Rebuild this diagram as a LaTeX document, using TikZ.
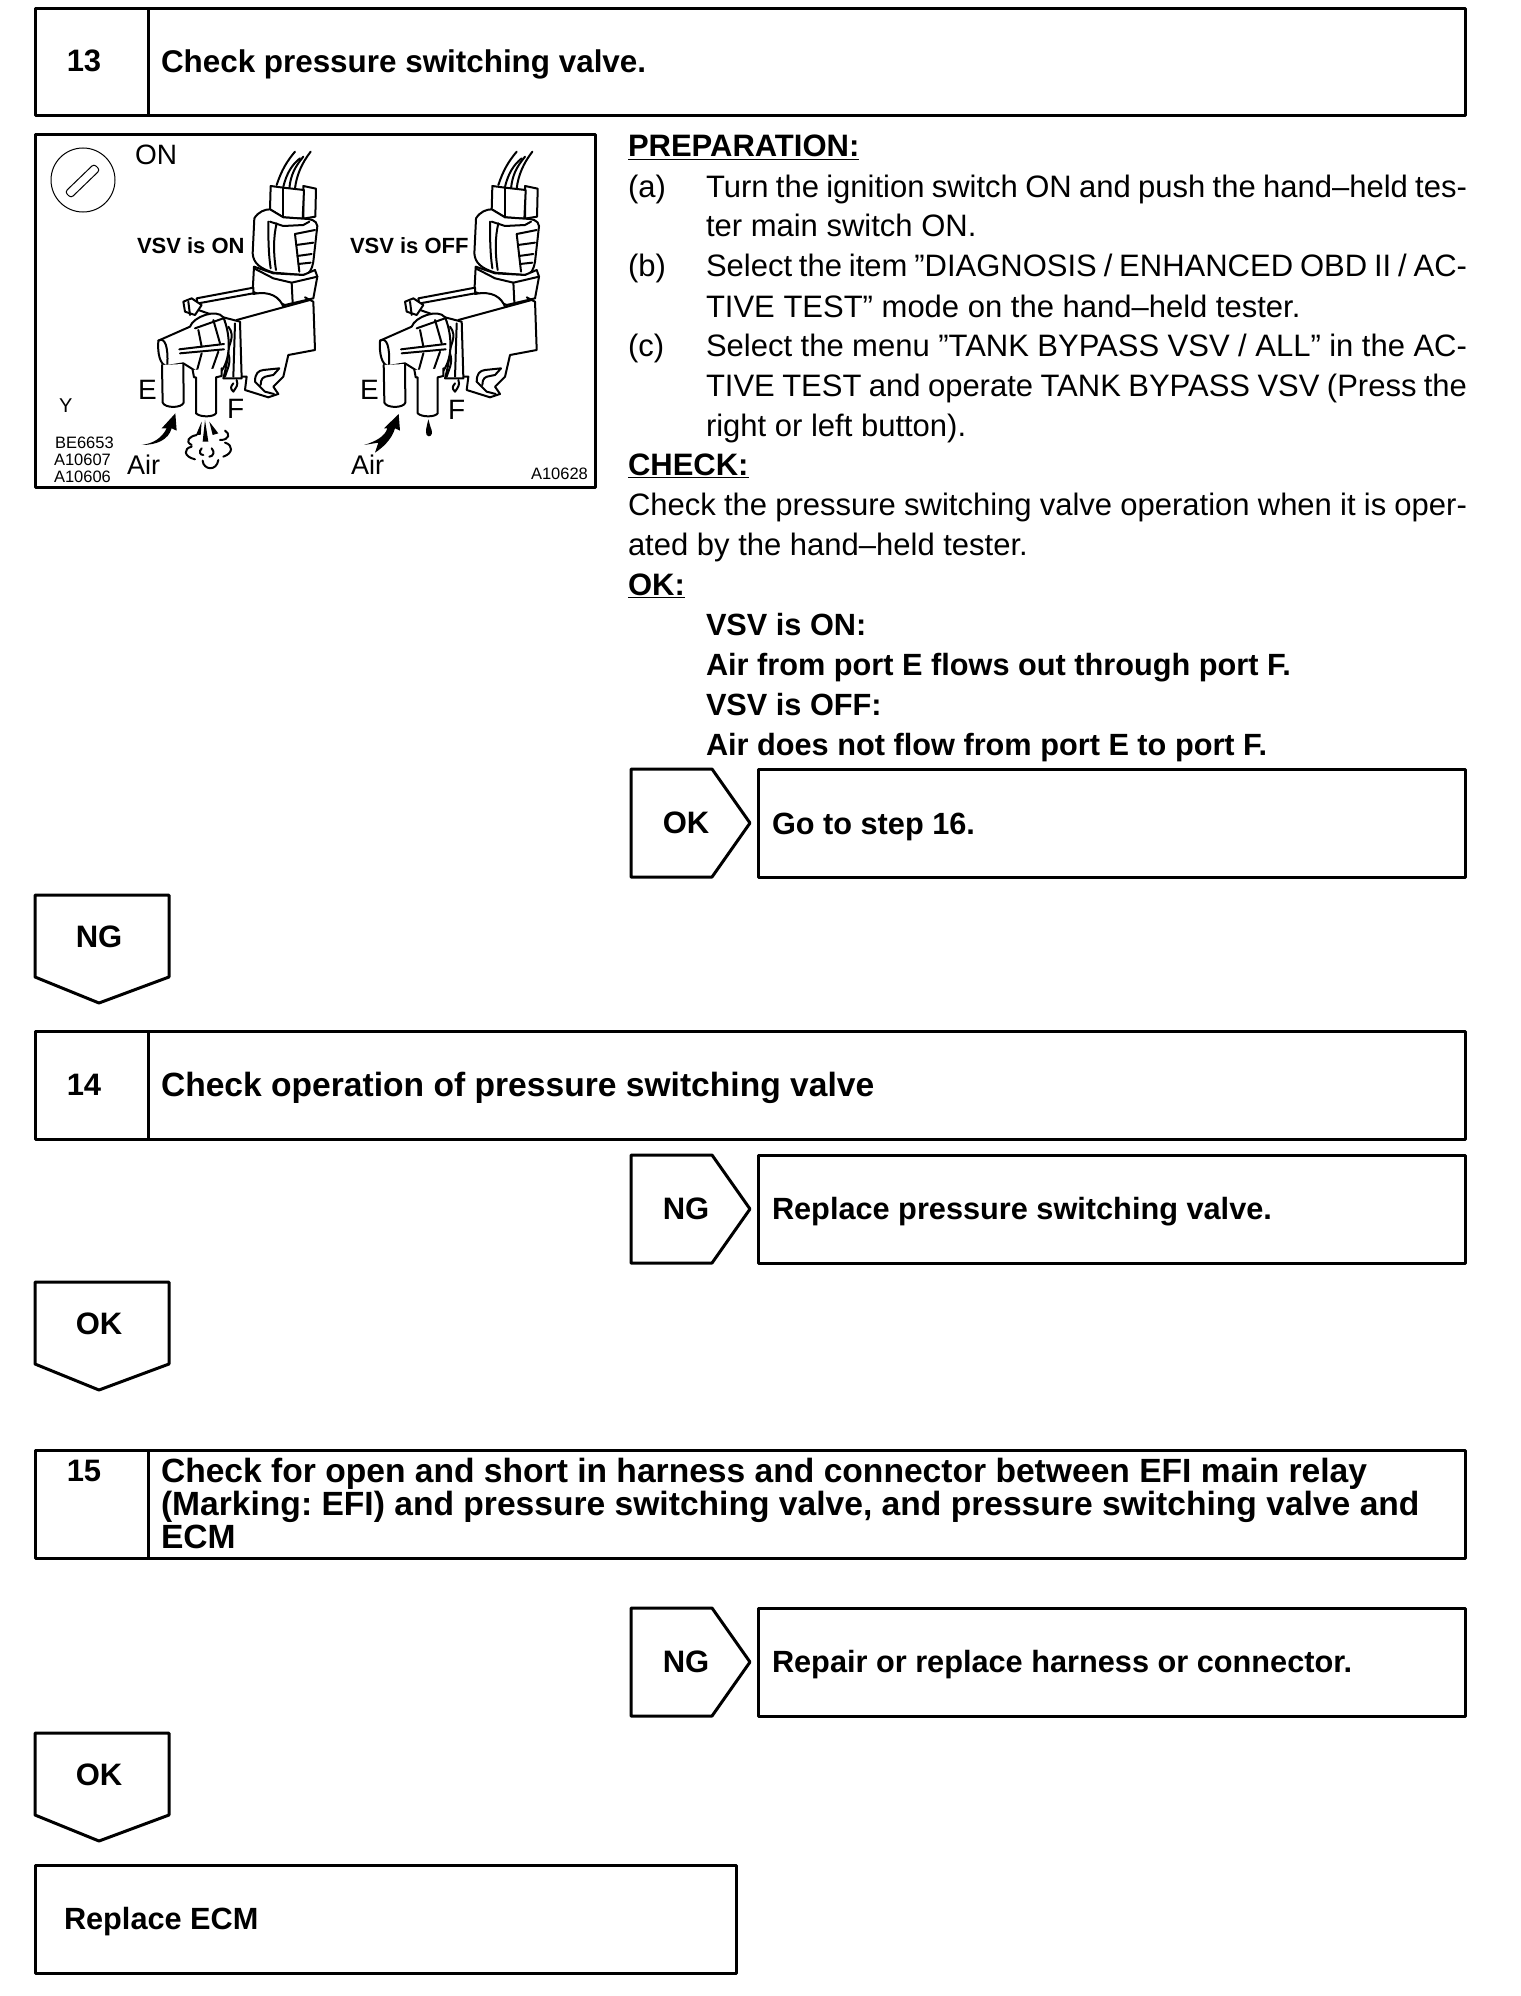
\documentclass[tikz,border=0pt]{standalone}
\usepackage{fontspec}
\setmainfont{Liberation Sans}
\frenchspacing
\newcommand{\vsvvalve}{%
 % wires
 \draw[vl] (770,195) .. controls (785,150) and (800,125) .. (825,95);
 \draw[vl] (790,200) .. controls (800,160) and (815,135) .. (840,115);
 \draw[vl] (808,205) .. controls (812,165) and (825,140) .. (850,110);
 \draw[vl] (825,205) .. controls (830,165) and (845,130) .. (872,95);
 % connector head
 \draw[vl,fill=white] (850,198) -- (888,206) -- (886,290) -- (850,296) -- cycle;
 \draw[vl,fill=white] (752,198) -- (750,268) -- (790,292) -- (848,296) -- (852,210) -- (790,203) -- cycle;
 \draw[vl] (790,205) -- (790,292);
 % connector body
 \draw[vl,fill=white] (703,295) .. controls (715,275) and (735,268) .. (750,268) -- (790,292) -- (850,296) .. controls (870,296) and (890,300) .. (892,318) -- (880,425) .. controls (875,450) and (870,462) .. (850,465) -- (760,458) .. controls (720,445) and (700,430) .. (698,400) -- cycle;
 \draw[vl] (745,305) .. controls (745,350) and (745,400) .. (752,445);
 \draw[vl] (770,310) .. controls (760,350) and (760,400) .. (768,450);
 \draw[vl] (750,305) -- (790,318) -- (850,315) -- (868,305);
 \draw[vl] (825,342) -- (885,330);
 \draw[vl] (825,342) -- (838,455);
 \draw[vl] (829,375) -- (880,368);
 \draw[vl] (832,408) -- (875,402);
 \draw[vl] (835,432) -- (872,428);
 % collar
 \draw[vl,fill=white] (702,440) -- (698,515) -- (795,555) -- (880,535) -- (892,470) -- (885,450) -- (850,465) -- (760,460) -- cycle;
 \draw[vl] (702,445) -- (760,475) -- (815,488) -- (892,470);
 \draw[vl] (815,488) -- (818,548);
 % solenoid
 \draw[vl,fill=white] (530,535) -- (700,503) -- (700,522) .. controls (750,512) and (780,530) .. (792,565) -- (650,610) -- (535,570) -- cycle;
 \draw[vl] (535,550) -- (700,520);
 % bracket clip
 \draw[vl,fill=white] (490,545) -- (515,535) -- (545,555) -- (525,585) -- (495,575) -- cycle;
 \draw[vl] (505,545) -- (510,585);
 % cover
 \draw[vl,fill=white] (650,600) -- (870,540) -- (880,545) -- (885,690) -- (805,705) -- (790,770) -- (760,800) -- (775,822) -- (745,832) -- (675,810) -- (680,770) -- (655,770) -- cycle;
 \draw[vl] (870,540) -- (855,532);
 \draw[vl] (705,785) .. controls (705,760) and (715,752) .. (730,750) -- (778,745) -- (760,765) -- (745,768) .. controls (730,770) and (722,775) .. (722,795);
 \draw[vl] (705,785) -- (735,815) -- (762,822);
 % flange
 \draw[vl,fill=white] (610,592) -- (660,605) -- (665,775) -- (610,775) .. controls (630,700) and (630,650) .. (610,592);
 \draw[vl] (645,610) -- (640,770);
 \draw[vl] (625,620) .. controls (650,650) and (620,680) .. (625,700) .. controls (635,730) and (620,750) .. (615,770);
 \draw[vl] (640,790) .. controls (632,800) and (630,805) .. (640,815) .. controls (650,800) and (655,795) .. (650,780);
 % cap and cone
 \draw[vl,fill=white] (510,620) .. controls (520,590) and (590,565) .. (610,592) .. controls (630,640) and (635,710) .. (605,752) -- (530,755) -- (490,730) -- (440,738) .. controls (420,735) and (412,700) .. (415,662) -- cycle;
 \draw[vl] (415,662) .. controls (435,650) and (445,680) .. (442,735);
 \draw[vl] (525,625) -- (610,595);
 \draw[vl] (535,630) -- (545,680);
 \draw[vl] (580,600) -- (600,670);
 \draw[vl] (478,688) -- (612,672);
 \draw[vl] (480,700) -- (612,688);
 \draw[vl] (545,700) -- (530,755);
 \draw[vl] (595,695) -- (575,752);
 % tubes
 \draw[vl,fill=white] (426,735) -- (428,848) .. controls (435,865) and (485,865) .. (491,848) -- (490,732);
 \draw[vl,fill=white] (518,750) -- (522,772) -- (528,772) -- (528,880) .. controls (540,892) and (580,892) .. (588,880) -- (588,772) -- (605,768) -- (605,745);
}
\tikzset{
 box/.style={line width=3pt,line join=round},
 vl/.style={line width=2pt,line join=round,line cap=round},
 txt/.style={anchor=base west,inner sep=0pt,outer sep=0pt,font=\fontsize{31}{31}\selectfont},
 btxt/.style={anchor=base west,inner sep=0pt,outer sep=0pt,font=\fontsize{30.7}{31}\selectfont\bfseries},
 htxt/.style={anchor=base west,inner sep=0pt,outer sep=0pt,font=\fontsize{33.6}{33.6}\selectfont\bfseries},
 ctxt/.style={anchor=center,inner sep=0pt,font=\fontsize{31}{31}\selectfont\bfseries},
 fig/.style={anchor=base west,inner sep=0pt,outer sep=0pt,font=\fontsize{28}{28}\selectfont},
 figb/.style={anchor=base west,inner sep=0pt,outer sep=0pt,font=\fontsize{22}{22}\selectfont\bfseries},
 code/.style={anchor=base west,inner sep=0pt,outer sep=0pt,font=\fontsize{16.5}{16.5}\selectfont},
}
\newcommand{\rpent}[3]{\draw[box] (631,#1) -- (712,#1) -- (750,#1+54) -- (712,#1+108) -- (631,#1+108) -- cycle;
 \node[ctxt] (#3) at (686,#1+54) {#2};}
\newcommand{\dpent}[3]{\draw[box] (35,#1) -- (169,#1) -- (169,#1+82) -- (99,#1+108) -- (35,#1+82) -- cycle;
 \node[ctxt] (#3) at (99,#1+42) {#2};}
\begin{document}
\begin{tikzpicture}[x=1pt,y=-1pt]
\useasboundingbox (0,0) rectangle (1520,1996);
\fill[white] (0,0) rectangle (1520,1996);

% step 13
\draw[box] (35,9) rectangle (1465,116);
\draw[box] (148,9) -- (148,116);
\node[ctxt] (n13) at (84,61) {13};
\node[btxt,font=\fontsize{31.4}{31.4}\selectfont\bfseries] (t13) at (161,73) {Check pressure switching valve.};

% figure
\draw[box] (35,134.5) rectangle (595,487);
\draw[line width=1pt] (83,180) circle (32);
\draw[line width=1pt,rounded corners=3pt] (65,192) -- (94,164) -- (100,170) -- (71,198) -- cycle;
\begin{scope}[shift={(20,120)},x=0.33333pt,y=-0.33333pt]
 \vsvvalve
 % air arrow
 \fill (365,975) .. controls (400,970) and (425,955) .. (440,925) -- (425,925) -- (466,880) -- (470,932) -- (455,925) .. controls (445,960) and (410,975) .. (365,975) -- cycle;
 % burst
 \fill (555,900) -- (548,965) -- (565,965) -- cycle;
 \fill (545,905) -- (528,945) -- (542,945) -- cycle;
 \fill (568,905) -- (578,945) -- (595,940) -- cycle;
 \draw[vl] (530,945) .. controls (505,950) and (495,965) .. (515,975);
 \draw[vl] (515,980) .. controls (490,985) and (490,1010) .. (525,1018);
 \draw[vl] (548,1022) .. controls (550,1050) and (590,1055) .. (595,1020);
 \draw[vl] (610,1010) .. controls (640,1000) and (640,975) .. (615,968);
 \draw[vl] (600,960) .. controls (630,960) and (630,940) .. (615,932);
 \draw[vl] (545,985) .. controls (535,995) and (540,1005) .. (550,1005);
 \draw[vl] (575,985) .. controls (585,995) and (580,1010) .. (568,1010);
\end{scope}
\begin{scope}[shift={(241.7,120)},x=0.33333pt,y=-0.33333pt]
 \vsvvalve
\end{scope}
\begin{scope}[shift={(310,120)},x=0.33333pt,y=-0.33333pt]
 \fill (162,975) .. controls (195,965) and (225,950) .. (232,925) -- (222,925) -- (266,882) -- (270,932) -- (255,925) .. controls (245,960) and (215,985) .. (195,998) -- (205,968) -- cycle;
 \fill (355,898) .. controls (350,920) and (345,935) .. (350,945) .. controls (358,955) and (370,945) .. (365,930) .. controls (360,920) and (358,905) .. (355,898) -- cycle;
\end{scope}
\node[fig] (on) at (135,165) {ON};
\node[figb] (von) at (137,253) {VSV is ON};
\node[figb] (voff) at (350,253) {VSV is OFF};
\node[fig,font=\fontsize{20}{20}\selectfont] (y) at (59,412) {Y};
\node[code] (c1) at (55,448) {BE6653};
\node[code] (c2) at (54,465) {A10607};
\node[code] (c3) at (54,482) {A10606};
\node[code] (c4) at (531,479) {A10628};
\node[fig,font=\fontsize{27}{27}\selectfont] (air1) at (127,474) {Air};
\node[fig,font=\fontsize{27}{27}\selectfont] (air2) at (351,474) {Air};
\node[fig] (e1) at (138,399) {E};
\node[fig] (f1) at (227,418) {F};
\node[fig] (e2) at (360,399) {E};
\node[fig] (f2) at (448,419) {F};

% instructions
\node[txt] (prep) at (628,157) {\bfseries\underline{PREPARATION:}};
\node[txt] (a) at (628,197) {(a)};
\node[txt] (a1) at (706,197) {\hbox to 761pt{Turn the ignition switch ON and push the hand–held tes-}};
\node[txt] (a2) at (706,236) {ter main switch ON.};
\node[txt] (b) at (628,276) {(b)};
\node[txt] (b1) at (706,276) {\hbox to 761pt{Select the item ”DIAGNOSIS / ENHANCED OBD II / AC-}};
\node[txt] (b2) at (706,317) {TIVE TEST” mode on the hand–held tester.};
\node[txt] (c) at (628,356) {(c)};
\node[txt] (c1l) at (706,356) {\hbox to 761pt{Select the menu ”TANK BYPASS VSV / ALL” in the AC-}};
\node[txt] (c2l) at (706,396) {\hbox to 761pt{TIVE TEST and operate TANK BYPASS VSV (Press the}};
\node[txt] (c3l) at (706,436) {right or left button).};
\node[txt] (chk) at (628,475) {\bfseries\underline{CHECK:}};
\node[txt] (ck1) at (628,515) {\hbox to 839pt{Check the pressure switching valve operation when it is oper-}};
\node[txt] (ck2) at (628,555) {ated by the hand–held tester.};
\node[txt] (ok) at (628,595) {\bfseries\underline{OK:}};
\node[btxt] (o1) at (706,635) {VSV is ON:};
\node[btxt] (o2) at (706,675) {Air from port E flows out through port F.};
\node[btxt] (o3) at (706,715) {VSV is OFF:};
\node[btxt] (o4) at (706,755) {Air does not flow from port E to port F.};

% OK go to 16
\rpent{769}{OK}{ok1}
\draw[box] (758,769) rectangle (1465,877);
\node[btxt] (go) at (772,834) {Go to step 16.};
\dpent{895}{NG}{ng1}

% step 14
\draw[box] (35,1031) rectangle (1465,1139);
\draw[box] (148,1031) -- (148,1139);
\node[ctxt] (n14) at (84,1085) {14};
\node[htxt] (t14) at (161,1096) {Check operation of pressure switching valve};
\rpent{1155}{NG}{ng2}
\draw[box] (758,1155) rectangle (1465,1263);
\node[btxt] (rv) at (772,1219) {Replace pressure switching valve.};
\dpent{1282}{OK}{ok2}

% step 15
\draw[box] (35,1450) rectangle (1465,1558);
\draw[box] (148,1450) -- (148,1558);
\node[ctxt] (n15) at (84,1471) {15};
\node[htxt] (t15a) at (161,1482) {Check for open and short in harness and connector between EFI main relay};
\node[htxt] (t15b) at (161,1515) {(Marking: EFI) and pressure switching valve, and pressure switching valve and};
\node[htxt] (t15c) at (161,1548) {ECM};
\rpent{1608}{NG}{ng3}
\draw[box] (758,1608) rectangle (1465,1716);
\node[btxt] (rh) at (772,1672) {Repair or replace harness or connector.};
\dpent{1733}{OK}{ok3}
\draw[box] (35,1865) rectangle (736,1973);
\node[btxt] (ecm) at (64,1929) {Replace ECM};
\end{tikzpicture}
\end{document}
